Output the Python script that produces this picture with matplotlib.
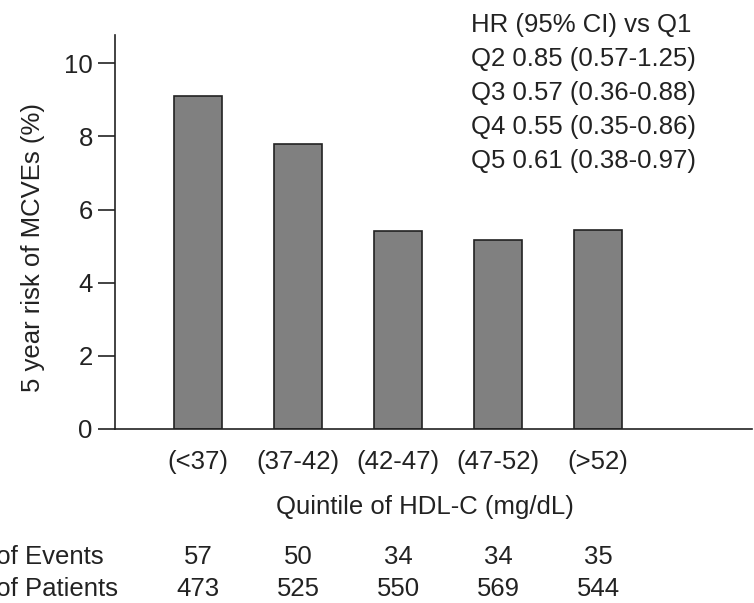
import matplotlib.pyplot as plt
import matplotlib.transforms as mtransforms

# data
quintiles = ['(<37)', '(37-42)', '(42-47)', '(47-52)', '(>52)']
risk = [9.1, 7.8, 5.4, 5.17, 5.45]
n_events = [57, 50, 34, 34, 35]
n_patients = [473, 525, 550, 569, 544]
hr_lines = ['HR (95% CI) vs Q1',
            'Q2 0.85 (0.57-1.25)',
            'Q3 0.57 (0.36-0.88)',
            'Q4 0.55 (0.35-0.86)',
            'Q5 0.61 (0.38-0.97)']

W, H = 754, 603
plt.rcParams['font.family'] = ['Liberation Sans', 'DejaVu Sans']
fs = 18.5
txt = '#222222'

fig = plt.figure(figsize=(W / 100, H / 100), dpi=100)
ax = fig.add_axes([115 / W, 1 - 429 / H, (752 - 115) / W, (429 - 35) / H])

x = list(range(len(quintiles)))
ax.bar(x, risk, width=0.48, color='#808080', edgecolor='#222222', linewidth=1.2)

ax.set_xlim(-0.83, 5.54)
ax.set_ylim(0, 10.77)
ax.set_yticks([0, 2, 4, 6, 8, 10])
ax.set_xticks(x)
ax.set_xticklabels(quintiles)
ax.tick_params(axis='y', length=12, width=1.2, pad=4, labelsize=fs, colors=txt)
ax.tick_params(axis='x', length=0, pad=15, labelsize=fs, colors=txt)
for s in ['top', 'right']:
    ax.spines[s].set_visible(False)
for s in ['left', 'bottom']:
    ax.spines[s].set_linewidth(1.2)
    ax.spines[s].set_color('#222222')

fig.text(33 / W, 1 - 247 / H, '5 year risk of MCVEs (%)', rotation=90,
         ha='center', va='center', fontsize=fs, color=txt)
fig.text(425 / W, 1 - 507 / H, 'Quintile of HDL-C (mg/dL)',
         ha='center', va='center', fontsize=fs, color=txt)

# HR annotation block
for i, line in enumerate(hr_lines):
    fig.text(471 / W, 1 - (25 + 34 * i) / H, line, ha='left', va='center',
             fontsize=fs, color=txt)

# counts table under the axis
trans = mtransforms.blended_transform_factory(ax.transData, fig.transFigure)
fig.text(-51 / W, 1 - 557 / H, 'No. of Events', ha='left', va='center',
         fontsize=fs, color=txt)
fig.text(-51 / W, 1 - 589 / H, 'No. of Patients', ha='left', va='center',
         fontsize=fs, color=txt)
for xi, e, p in zip(x, n_events, n_patients):
    ax.text(xi, 1 - 557 / H, str(e), transform=trans, ha='center', va='center',
            fontsize=fs, color=txt)
    ax.text(xi, 1 - 589 / H, str(p), transform=trans, ha='center', va='center',
            fontsize=fs, color=txt)

fig.savefig('out.png', dpi=100)
